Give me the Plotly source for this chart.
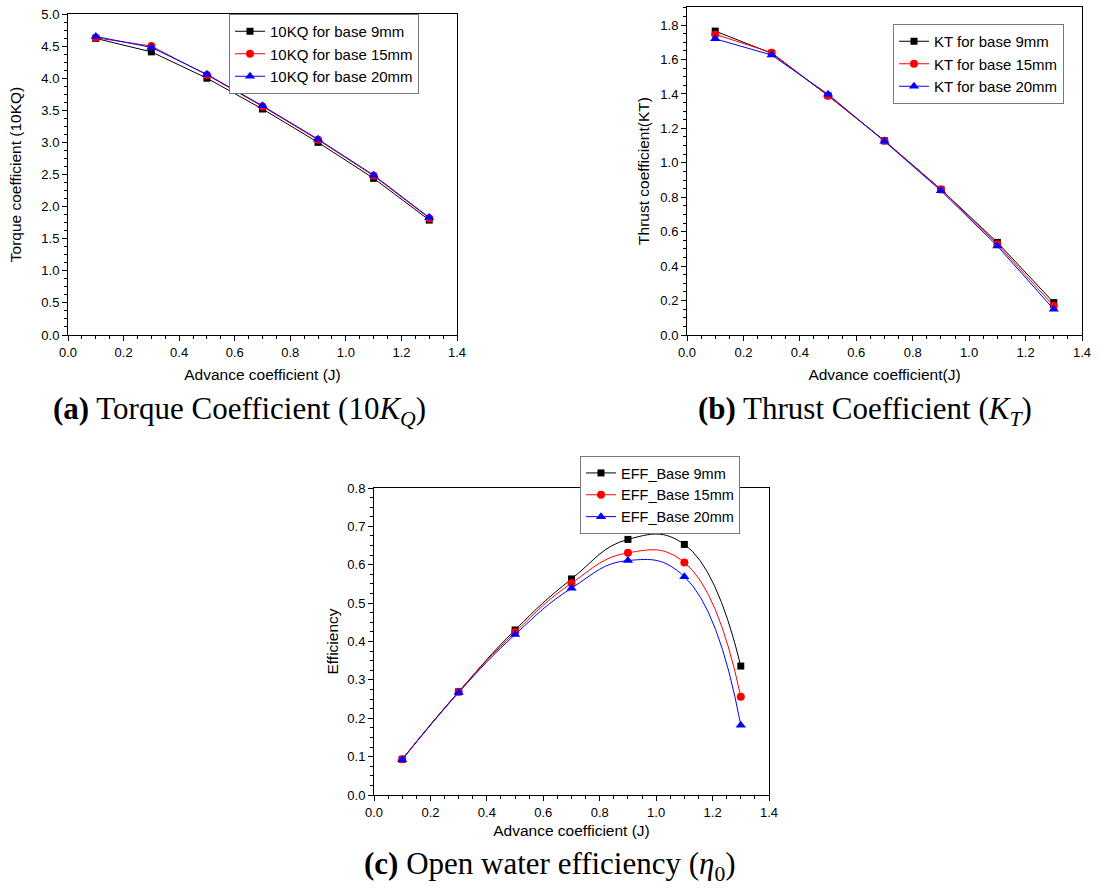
import plotly.graph_objects as go

W, H = 1098, 889

J = [0.1, 0.3, 0.5, 0.7, 0.9, 1.1, 1.3]

kq_9 = [4.62, 4.41, 4.00, 3.52, 3.00, 2.44, 1.79]
kq_15 = [4.63, 4.50, 4.05, 3.56, 3.04, 2.48, 1.82]
kq_20 = [4.65, 4.48, 4.06, 3.57, 3.05, 2.49, 1.83]

kt_9 = [1.765, 1.636, 1.390, 1.128, 0.846, 0.538, 0.188]
kt_15 = [1.746, 1.640, 1.390, 1.128, 0.845, 0.527, 0.168]
kt_20 = [1.720, 1.626, 1.398, 1.125, 0.838, 0.517, 0.149]

eff_9 = [0.093, 0.269, 0.430, 0.563, 0.666, 0.653, 0.336]
eff_15 = [0.093, 0.269, 0.424, 0.552, 0.631, 0.606, 0.256]
eff_20 = [0.092, 0.267, 0.418, 0.539, 0.611, 0.569, 0.182]

names_a = ["10KQ for base 9mm", "10KQ for base 15mm", "10KQ for base 20mm"]
names_b = ["KT for base 9mm", "KT for base 15mm", "KT for base 20mm"]
names_c = ["EFF_Base 9mm", "EFF_Base 15mm", "EFF_Base 20mm"]

colors = ["#000000", "#ff0000", "#0000ff"]
symbols = ["square", "circle", "triangle-up"]
msizes = [7, 8, 9]

SANS = "Liberation Sans, Arial, sans-serif"
SERIF = "Liberation Serif, Times New Roman, serif"


def px_x(p):
    return p / W


def px_y(p):
    return 1 - p / H


fig = go.Figure()

panels = [
    ("x", "y", [kq_9, kq_15, kq_20], names_a, "legend", "linear"),
    ("x2", "y2", [kt_9, kt_15, kt_20], names_b, "legend2", "linear"),
    ("x3", "y3", [eff_9, eff_15, eff_20], names_c, "legend3", "spline"),
]

for xa, ya, series, names, leg, shape in panels:
    for i, (vals, nm) in enumerate(zip(series, names)):
        line = dict(color=colors[i], width=1, shape=shape)
        if shape == "spline":
            line["smoothing"] = 1.3
        fig.add_trace(go.Scatter(
            x=J, y=vals, name=nm, mode="lines+markers",
            line=line,
            marker=dict(symbol=symbols[i], size=msizes[i], color=colors[i],
                        line=dict(width=0)),
            xaxis=xa, yaxis=ya, legend=leg,
        ))

axis_common = dict(
    showgrid=False, zeroline=False, showline=True, linecolor="black",
    linewidth=1, mirror=True, ticks="outside", ticklen=5, tickwidth=1,
    tickcolor="black", tickfont=dict(family=SANS, size=13, color="black"),
    automargin=False,
)

TFONT = dict(family=SANS, size=15.5, color="black")


def xaxis(domain, anchor, title, standoff):
    return dict(axis_common, domain=domain, anchor=anchor, range=[0, 1.4],
                dtick=0.2, tick0=0, tickformat=".1f",
                minor=dict(ticks="outside", ticklen=3, dtick=0.05, tick0=0,
                           tickcolor="black"),
                title=dict(text=title, font=TFONT, standoff=standoff))


def yaxis(domain, anchor, rng, dt, mdt, title, standoff):
    return dict(axis_common, domain=domain, anchor=anchor, range=rng,
                dtick=dt, tick0=0, tickformat=".1f",
                minor=dict(ticks="outside", ticklen=3, dtick=mdt, tick0=0,
                           tickcolor="black"),
                title=dict(text=title, font=TFONT, standoff=standoff))


legend_common = dict(
    bgcolor="white", bordercolor="#777777", borderwidth=1,
    xanchor="left", yanchor="top", tracegroupgap=0, itemwidth=30,
)

fig.update_layout(
    width=W, height=H,
    margin=dict(l=0, r=0, t=0, b=0),
    paper_bgcolor="white", plot_bgcolor="white",
    xaxis=xaxis([px_x(68), px_x(457)], "y", "Advance coefficient (J)", 10),
    yaxis=yaxis([px_y(335), px_y(14)], "x", [0, 5], 0.5, 0.125,
                "Torque coefficient (10KQ)", 15),
    xaxis2=xaxis([px_x(687), px_x(1082)], "y2", "Advance coefficient(J)", 10),
    yaxis2=yaxis([px_y(335), px_y(7)], "x2", [0, 1.905], 0.2, 0.05,
                 "Thrust coefficient(KT)", 6),
    xaxis3=xaxis([px_x(374), px_x(769)], "y3", "Advance coefficient (J)", 6),
    yaxis3=yaxis([px_y(795), px_y(488)], "x3", [0, 0.8], 0.1, 0.025,
                 "Efficiency", 4),
    legend=dict(legend_common, x=px_x(229), y=px_y(14),
                font=dict(family=SANS, size=15, color="black")),
    legend2=dict(legend_common, x=px_x(893), y=px_y(24),
                 font=dict(family=SANS, size=15, color="black")),
    legend3=dict(legend_common, x=px_x(580), y=px_y(456),
                 font=dict(family=SANS, size=14.5, color="black")),
    showlegend=True,
)

captions = [
    ("<b>(a)</b> Torque Coefficient (10<i>K</i><sub><i>Q</i></sub>)", 239.5, 411),
    ("<b>(b)</b> Thrust Coefficient (<i>K</i><sub><i>T</i></sub>)", 865, 411),
    ("<b>(c)</b> Open water efficiency (<i>η</i><sub>0</sub>)", 550, 866),
]
for txt, cx, cy in captions:
    fig.add_annotation(text=txt, x=px_x(cx), y=px_y(cy), xref="paper", yref="paper",
                       xanchor="center", yanchor="middle", showarrow=False,
                       font=dict(family=SERIF, size=31, color="black"))

fig.write_html("out.html")
